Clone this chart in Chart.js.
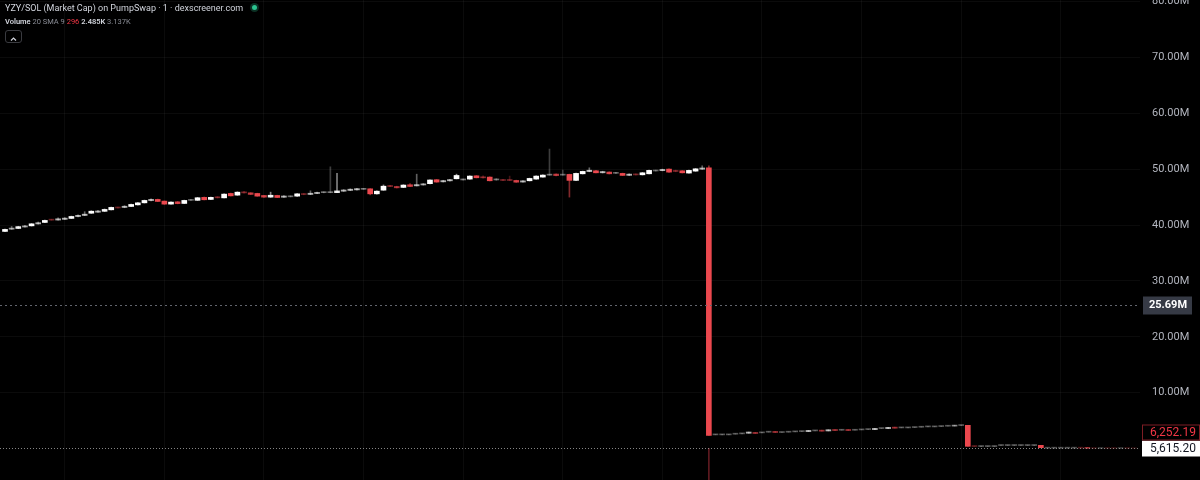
<!DOCTYPE html>
<html>
<head>
<meta charset="utf-8">
<script src="https://cdn.jsdelivr.net/npm/chart.js@4.4.1/dist/chart.umd.min.js"></script>
<style>
    html, body { margin: 0; padding: 0; background: #000; }
    #wrap { position: relative; width: 1200px; height: 480px; overflow: hidden; background: #000; }
    #grafico { position: absolute; left: 0; top: 0; }
    .legenda { position: absolute; left: 5px; font-family: Roboto, "Noto Sans", sans-serif; white-space: nowrap; }
    #titulo { top: 1px; font-size: 9px; line-height: 14px; color: #d1d4dc; }
    #volume { top: 16px; font-size: 7.5px; line-height: 12px; color: #8a8d96; }
    #volume b { color: #d1d4dc; font-weight: 600; }
    #volume .red { color: #f23645; }
    #ponto { position: absolute; left: 252px; top: 5px; width: 5px; height: 5px; border-radius: 50%;
             background: #2bc48f; box-shadow: 0 0 0 2px rgba(43,196,143,0.25); }
    #botao { position: absolute; left: 5px; top: 30px; width: 15px; height: 11px; border: 1px solid #3a3b40;
             border-radius: 3px; }
</style>
</head>
<body>
<div id="wrap">
    <canvas id="grafico" width="1200" height="480"></canvas>
    <div id="titulo" class="legenda">YZY/SOL (Market Cap) on PumpSwap · 1 · dexscreener.com</div>
    <div id="ponto"></div>
    <div id="volume" class="legenda"><b>Volume</b> 20 SMA 9 <span class="red">296</span> <b>2.485K</b> 3.137K</div>
    <div id="botao"><svg width="15" height="11" viewBox="0 0 15 11"><polyline points="5,6.5 7.5,4 10,6.5" fill="none" stroke="#d1d4dc" stroke-width="1.2"/></svg></div>
</div>
<script>
// market cap por candle de 1 minuto, em milhões
const openM = [
    38.86, 39.26, 39.39, 39.65, 39.86, 40.20, 40.47, 41.00, 40.90, 41.02,
    41.19, 41.52, 41.72, 42.12, 42.30, 42.46, 42.73, 43.18, 43.15, 43.33,
    43.62, 43.98, 44.38, 44.59, 44.29, 43.75, 44.16, 43.87, 44.42, 44.43,
    44.96, 44.59, 45.04, 44.87, 45.66, 45.36, 45.92, 45.77, 45.66, 45.30,
    45.00, 45.30, 44.98, 45.06, 45.18, 45.60, 45.48, 45.64, 45.80, 45.80,
    45.80, 46.06, 46.20, 46.30, 46.40, 46.49, 45.59, 46.25, 47.06, 46.91,
    46.74, 47.22, 47.02, 47.18, 47.41, 48.12, 47.74, 47.92, 48.29, 48.08,
    48.23, 48.82, 48.64, 48.59, 48.08, 48.12, 48.12, 47.99, 47.70, 47.93,
    48.23, 48.59, 48.94, 49.13, 48.94, 49.07, 48.00, 49.18, 49.58, 49.72,
    49.36, 49.49, 49.26, 49.25, 48.90, 49.12, 49.00, 49.18, 49.68, 49.74,
    50.02, 49.76, 49.72, 49.31, 49.66, 50.00, 50.25, 2.43, 2.43, 2.43,
    2.55, 2.61, 2.72, 2.87, 2.79, 2.91, 3.05, 2.85, 2.91, 2.97,
    3.02, 3.01, 3.14, 3.28, 3.13, 3.40, 3.26, 3.40, 3.26, 3.32,
    3.38, 3.37, 3.56, 3.55, 3.82, 3.68, 3.68, 3.74, 3.80, 3.86,
    3.86, 3.92, 3.98, 4.00, 4.10, 4.14, 0.44, 0.34, 0.34, 0.34,
    0.52, 0.52, 0.52, 0.52, 0.52, 0.52, 0.56, 0.05, 0.05, 0.05,
    0.05, 0.05, 0.12, 0.20, 0.03, 0.006, 0.03, 0.03, 0.006, 0.03,
    0.00625219
];
const highM = [
    39.30, 39.76, 39.78, 39.95, 40.28, 40.55, 40.90, 41.05, 41.30, 41.34,
    41.60, 41.82, 42.39, 42.56, 42.62, 42.88, 43.22, 43.24, 43.48, 43.75,
    44.04, 44.47, 44.68, 44.65, 44.32, 44.18, 44.22, 44.46, 44.60, 44.95,
    45.02, 45.02, 45.10, 45.60, 45.72, 45.95, 46.02, 45.80, 45.70, 45.34,
    45.89, 45.34, 45.26, 45.24, 45.64, 45.66, 46.13, 45.92, 45.96, 50.43,
    49.25, 46.36, 46.50, 46.58, 46.56, 46.52, 46.12, 47.18, 47.12, 46.96,
    47.22, 47.43, 49.11, 47.44, 48.12, 48.16, 48.02, 48.20, 49.11, 48.26,
    48.82, 48.86, 48.80, 48.64, 48.32, 48.20, 48.77, 48.04, 47.98, 48.40,
    48.82, 49.00, 53.61, 49.18, 49.84, 49.12, 49.30, 49.66, 50.25, 49.78,
    49.64, 49.54, 49.42, 49.30, 49.18, 49.18, 49.42, 49.84, 49.84, 50.02,
    50.06, 49.84, 49.76, 49.84, 50.12, 50.61, 50.61, 2.51, 2.51, 2.51,
    2.63, 2.69, 2.94, 2.87, 2.87, 2.99, 3.05, 2.93, 2.99, 3.05,
    3.10, 3.23, 3.22, 3.28, 3.35, 3.40, 3.34, 3.40, 3.34, 3.40,
    3.46, 3.59, 3.64, 3.77, 3.82, 3.76, 3.76, 3.82, 3.88, 3.94,
    3.94, 4.00, 4.06, 4.16, 4.18, 4.14, 0.44, 0.42, 0.42, 0.42,
    0.60, 0.60, 0.60, 0.60, 0.60, 0.60, 0.56, 0.11, 0.11, 0.11,
    0.11, 0.11, 0.12, 0.20, 0.03, 0.03, 0.03, 0.03, 0.03, 0.03,
    0.00625219
];
const lowM = [
    38.80, 39.22, 39.36, 39.62, 39.82, 40.16, 40.44, 40.84, 40.86, 40.98,
    41.15, 41.48, 41.68, 42.08, 42.26, 42.42, 42.70, 43.02, 43.10, 43.30,
    43.58, 43.95, 44.34, 44.20, 43.70, 43.72, 43.80, 43.84, 44.38, 44.40,
    44.50, 44.56, 44.84, 44.84, 45.20, 45.32, 45.72, 45.45, 45.15, 44.96,
    44.96, 44.90, 44.94, 45.02, 45.14, 45.42, 45.44, 45.60, 45.76, 45.78,
    45.78, 46.02, 46.16, 46.26, 46.36, 45.41, 45.55, 46.22, 46.86, 46.62,
    46.70, 46.88, 46.98, 47.14, 47.38, 47.66, 47.70, 47.88, 48.26, 48.04,
    48.20, 48.44, 48.40, 47.90, 48.00, 47.94, 47.94, 47.64, 47.66, 47.90,
    48.20, 48.56, 48.90, 48.82, 48.90, 45.01, 47.96, 49.14, 49.54, 49.32,
    49.31, 49.14, 49.22, 48.86, 48.86, 48.94, 48.96, 49.14, 49.64, 49.70,
    49.44, 49.54, 49.32, 49.28, 49.62, 49.96, 2.35, 2.43, 2.43, 2.43,
    2.55, 2.61, 2.72, 2.67, 2.79, 2.91, 2.85, 2.85, 2.91, 2.97,
    3.02, 3.01, 3.14, 3.08, 3.13, 3.20, 3.26, 3.20, 3.26, 3.32,
    3.38, 3.37, 3.56, 3.55, 3.62, 3.68, 3.68, 3.74, 3.80, 3.86,
    3.86, 3.92, 3.98, 4.00, 4.10, 0.38, 0.34, 0.34, 0.34, 0.34,
    0.52, 0.52, 0.52, 0.52, 0.52, 0.52, 0.14, 0.05, 0.05, 0.05,
    0.05, 0.05, 0.05, 0.01, 0.006, 0.006, 0.006, 0.006, 0.006, 0.006,
    0.0056152
];
const closeM = [
    39.22, 39.46, 39.72, 39.85, 40.22, 40.42, 40.83, 40.88, 41.12, 41.24,
    41.54, 41.74, 41.95, 42.48, 42.52, 42.80, 43.16, 43.06, 43.37, 43.69,
    43.98, 44.41, 44.60, 44.23, 43.75, 44.11, 43.84, 44.41, 44.52, 44.89,
    44.53, 44.96, 44.88, 45.54, 45.23, 45.89, 45.76, 45.49, 45.18, 45.00,
    45.34, 44.94, 45.20, 45.17, 45.59, 45.46, 45.70, 45.85, 45.92, 45.92,
    46.12, 46.28, 46.42, 46.52, 46.52, 45.59, 46.07, 46.96, 46.90, 46.67,
    47.16, 46.91, 47.24, 47.38, 48.07, 47.70, 47.96, 48.14, 48.88, 48.20,
    48.77, 48.47, 48.46, 47.93, 48.20, 47.98, 47.98, 47.68, 47.92, 48.35,
    48.77, 48.95, 49.06, 48.86, 49.04, 48.00, 49.25, 49.61, 49.82, 49.36,
    49.58, 49.18, 49.36, 48.89, 49.12, 48.98, 49.36, 49.79, 49.78, 49.96,
    49.48, 49.60, 49.36, 49.79, 50.07, 50.22, 2.35, 2.51, 2.51, 2.51,
    2.63, 2.69, 2.94, 2.67, 2.87, 2.99, 2.85, 2.93, 2.99, 3.05,
    3.10, 3.23, 3.22, 3.08, 3.35, 3.20, 3.34, 3.20, 3.34, 3.40,
    3.46, 3.59, 3.64, 3.77, 3.62, 3.76, 3.76, 3.82, 3.88, 3.94,
    3.94, 4.00, 4.06, 4.16, 4.18, 0.38, 0.34, 0.42, 0.42, 0.42,
    0.60, 0.60, 0.60, 0.60, 0.60, 0.60, 0.14, 0.11, 0.11, 0.11,
    0.11, 0.11, 0.05, 0.01, 0.006, 0.03, 0.006, 0.006, 0.03, 0.006,
    0.0056152
];

// eixo de preço (M) e grade de tempo (a cada 15 candles)
const priceTicks = [10, 20, 30, 40, 50, 60, 70, 80];
const timeTicks = [9, 24, 39, 54, 69, 84, 99, 114, 129, 144, 159];

// crosshair e linhas de preço
const crosshairM = 25.69;
const lastPrice = 5615.20;
const prevPrice = 6252.19;
const crashIndex = 106;

const yMin = -5.65, yMax = 80.3;

if (openM.length !== closeM.length || highM.length !== openM.length || lowM.length !== openM.length) {
    console.error('tamanhos diferentes', openM.length, highM.length, lowM.length, closeM.length);
}

function corCandle(i, fator) {
    const o = openM[i], c = closeM[i];
    // corpos pequenos ficam mais apagados, como no print original
    const a = Math.min(1, 0.15 + Math.abs(c - o) * 2.4) * fator;
    return c >= o ? `rgba(255,255,255,${a})` : `rgba(235,72,78,${a})`;
}

const corpos = openM.map((o, i) => ({ x: i, y: [o, closeM[i]] }));
const pavios = highM.map((h, i) => ({ x: i, y: [lowM[i], h] }));

function semPadding(s) {
    s.paddingTop = 0;
    s.paddingBottom = 0;
    s.paddingLeft = 0;
    s.paddingRight = 0;
}

const linhasPreco = {
    id: 'linhasPreco',
    beforeDraw(chart) {
        const c = chart.ctx;
        c.save();
        c.fillStyle = '#000';
        c.fillRect(0, 0, chart.width, chart.height);
        c.restore();
    },
    afterDraw(chart) {
        const c = chart.ctx;
        const y = chart.scales.y;
        const area = chart.chartArea;
        c.save();

        // crosshair horizontal
        const yc = Math.round(y.getPixelForValue(crosshairM)) + 0.5;
        c.strokeStyle = '#62656e';
        c.lineWidth = 1;
        c.setLineDash([2, 3]);
        c.beginPath(); c.moveTo(area.left, yc); c.lineTo(area.right, yc); c.stroke();

        // linha do último preço
        const yp = Math.round(y.getPixelForValue(lastPrice / 1e6)) + 0.5;
        c.strokeStyle = 'rgba(190,190,190,0.7)';
        c.setLineDash([1, 2]);
        c.beginPath(); c.moveTo(area.left, yp); c.lineTo(area.right, yp); c.stroke();
        c.setLineDash([]);

        c.textBaseline = 'middle';
        c.textAlign = 'left';

        // etiqueta do crosshair
        c.fillStyle = '#363a45';
        c.fillRect(area.right + 3, yc - 9, 49, 18);
        c.fillStyle = '#ffffff';
        c.font = 'bold 11px Roboto, sans-serif';
        c.fillText(crosshairM.toFixed(2) + 'M', area.right + 9, yc);

        const fmt = v => v.toLocaleString('en-US', { minimumFractionDigits: 2, maximumFractionDigits: 2 });

        // etiqueta branca do último preço
        c.fillStyle = '#ffffff';
        c.fillRect(area.right + 2, yp - 8, 58, 16);
        c.fillStyle = '#131722';
        c.font = '12px Roboto, sans-serif';
        c.fillText(fmt(lastPrice), area.right + 10, yp + 0.5);

        // etiqueta vermelha logo acima
        c.fillStyle = '#000';
        c.fillRect(area.right + 2, yp - 24, 58, 16);
        c.strokeStyle = '#7d1d24';
        c.strokeRect(area.right + 2.5, yp - 23.5, 57, 15);
        c.fillStyle = '#f23645';
        c.fillText(fmt(prevPrice), area.right + 10, yp - 15.5);

        c.restore();
    }
};

new Chart(document.getElementById('grafico'), {
    type: 'bar',
    data: {
        datasets: [
            {
                label: 'corpo',
                data: corpos,
                backgroundColor: ctx => corCandle(ctx.dataIndex, 1),
                barThickness: 5,
                minBarLength: 1,
                borderWidth: 0,
                grouped: false,
                order: 1
            },
            {
                label: 'pavio',
                data: pavios,
                backgroundColor: ctx => corCandle(ctx.dataIndex, 0.55),
                barThickness: 1,
                borderWidth: 0,
                grouped: false,
                order: 2
            },
            {
                label: 'marca',
                data: [{ x: crashIndex, y: [yMin, lastPrice / 1e6] }],
                backgroundColor: '#5e1a20',
                barThickness: 1,
                borderWidth: 0,
                grouped: false,
                order: 3
            }
        ]
    },
    options: {
        responsive: false,
        animation: false,
        layout: { padding: 0, autoPadding: false },
        plugins: {
            legend: { display: false },
            tooltip: { enabled: false }
        },
        scales: {
            x: {
                type: 'linear',
                min: -0.753,
                max: 170.93,
                offset: false,
                afterBuildTicks: s => { s.ticks = timeTicks.map(v => ({ value: v })); },
                afterFit: s => { s.height = 0; semPadding(s); },
                ticks: { display: false },
                grid: { color: 'rgba(255,255,255,0.045)', drawTicks: false, offset: false },
                border: { display: false }
            },
            y: {
                position: 'right',
                min: yMin,
                max: yMax,
                afterBuildTicks: s => { s.ticks = priceTicks.map(v => ({ value: v })); },
                afterFit: s => { s.width = 60; semPadding(s); },
                ticks: {
                    color: '#b2b5be',
                    font: { family: 'Roboto, sans-serif', size: 11 },
                    padding: 12,
                    autoSkip: false,
                    callback: v => v.toFixed(2) + 'M'
                },
                grid: { color: 'rgba(255,255,255,0.045)', drawTicks: false },
                border: { display: false }
            }
        }
    },
    plugins: [linhasPreco]
});
</script>
</body>
</html>
